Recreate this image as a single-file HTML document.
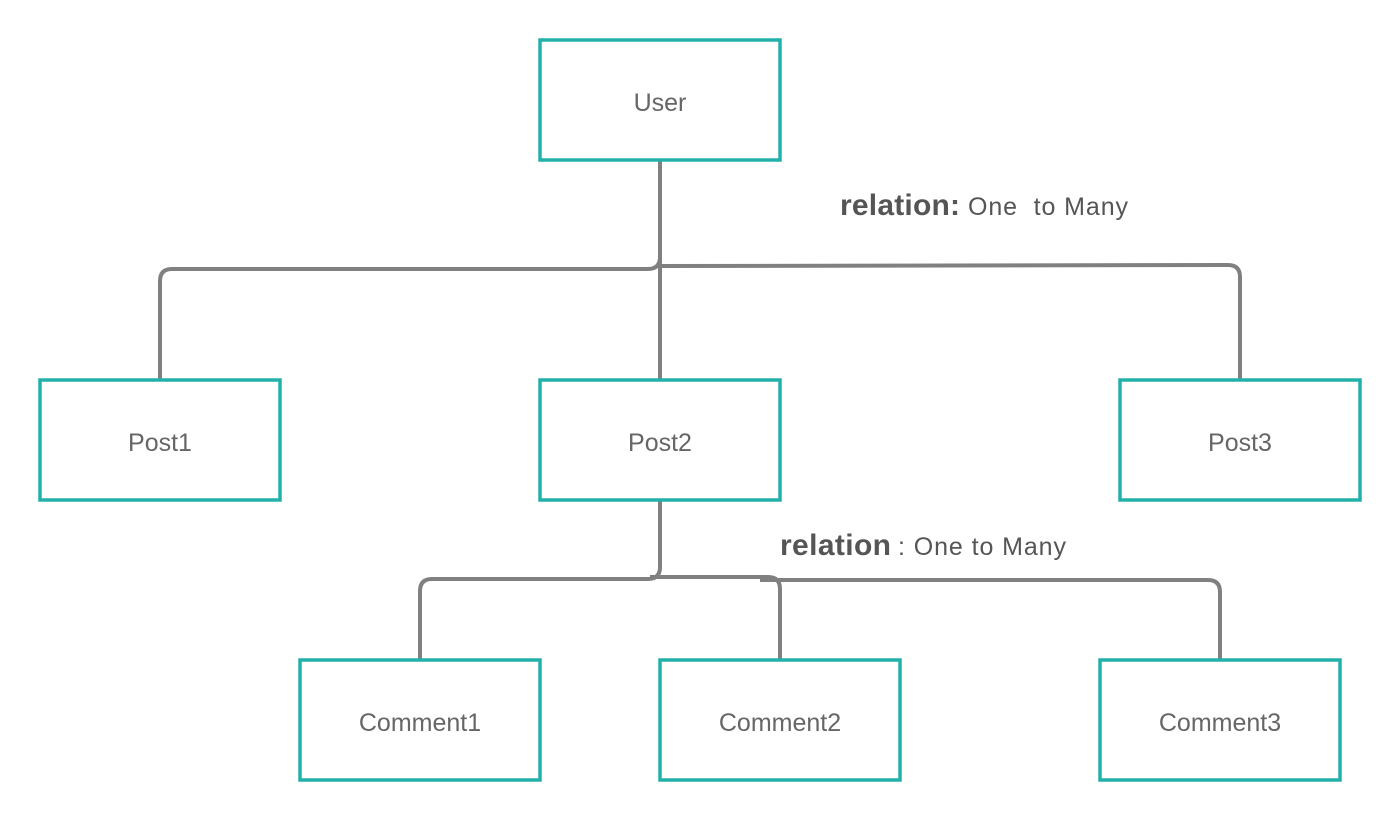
<!DOCTYPE html>
<html><head><meta charset="utf-8"><style>
html,body{margin:0;padding:0;background:#fff;}
svg{display:block;}
text{font-family:"Liberation Sans",sans-serif;fill:#666;}
</style></head><body>
<svg width="1400" height="820" viewBox="0 0 1400 820" xmlns="http://www.w3.org/2000/svg">
<g fill="none" stroke="#808080" stroke-width="4">
<path d="M660 160 V380"/>
<path d="M660 160 V257 Q660 269 648 269 H172 Q160 269 160 281 V380"/>
<path d="M660 266 L1228 265 Q1240 265 1240 277 V380"/>
<path d="M660 500 V567 Q660 579 648 579 H432 Q420 579 420 591 V660"/>
<path d="M650 577 H768 Q780 577 780 589 V660"/>
<path d="M760 580 H1208 Q1220 580 1220 592 V660"/>
</g>
<g fill="#fff" stroke="#22b0ab" stroke-width="3.5">
<rect x="540" y="40" width="240" height="120"/>
<rect x="40" y="380" width="240" height="120"/>
<rect x="540" y="380" width="240" height="120"/>
<rect x="1120" y="380" width="240" height="120"/>
<rect x="300" y="660" width="240" height="120"/>
<rect x="660" y="660" width="240" height="120"/>
<rect x="1100" y="660" width="240" height="120"/>
</g>
<g font-size="25" text-anchor="middle">
<text x="660" y="111">User</text>
<text x="160" y="451">Post1</text>
<text x="660" y="451">Post2</text>
<text x="1240" y="451">Post3</text>
<text x="420" y="731">Comment1</text>
<text x="780" y="731">Comment2</text>
<text x="1220" y="731">Comment3</text>
</g>
<text x="840" y="215" font-size="30" font-weight="bold" textLength="120" style="fill:#555">relation:</text>
<text x="968" y="215" font-size="25" textLength="160" style="fill:#555;white-space:pre" xml:space="preserve">One  to Many</text>
<text x="780" y="555" font-size="30" font-weight="bold" textLength="111" style="fill:#555">relation</text>
<text x="898" y="555" font-size="25" textLength="168" style="fill:#555">: One to Many</text>
</svg>
</body></html>
